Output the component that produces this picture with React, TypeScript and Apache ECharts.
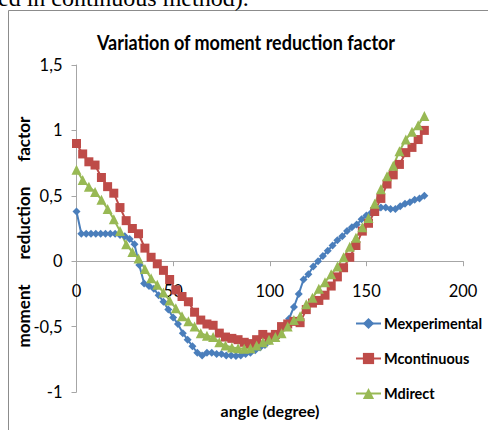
import React, { useEffect, useRef } from "react";
import * as echarts from "echarts";

const anglesExp = [0, 2.5, 5, 7.5, 10, 12.5, 15, 17.5, 20, 22.5, 25, 27.5, 30, 32.5, 35, 37.5, 40, 42.5, 45, 47.5, 50, 52.5, 55, 57.5, 60, 62.5, 65, 67.5, 70, 72.5, 75, 77.5, 80, 82.5, 85, 87.5, 90, 92.5, 95, 97.5, 100, 102.5, 105, 107.5, 110, 112.5, 115, 117.5, 120, 122.5, 125, 127.5, 130, 132.5, 135, 137.5, 140, 142.5, 145, 147.5, 150, 152.5, 155, 157.5, 160, 162.5, 165, 167.5, 170, 172.5, 175, 177.5, 180];
const mExperimental = [0.38, 0.21, 0.21, 0.21, 0.21, 0.21, 0.21, 0.21, 0.21, 0.2, 0.19, 0.17, 0.13, -0.03, -0.17, -0.19, -0.21, -0.26, -0.31, -0.37, -0.43, -0.48, -0.55, -0.6, -0.65, -0.7, -0.72, -0.7, -0.7, -0.71, -0.71, -0.72, -0.72, -0.725, -0.72, -0.71, -0.7, -0.68, -0.66, -0.64, -0.61, -0.57, -0.54, -0.49, -0.44, -0.35, -0.25, -0.14, -0.1, -0.04, 0.0, 0.04, 0.08, 0.12, 0.16, 0.19, 0.23, 0.26, 0.28, 0.32, 0.35, 0.37, 0.39, 0.41, 0.41, 0.4, 0.4, 0.42, 0.44, 0.45, 0.47, 0.48, 0.5];

const anglesCalc = [0, 3.2, 6.4, 9.6, 12.9, 16.1, 19.3, 22.5, 25.7, 28.9, 32.1, 35.4, 38.6, 41.8, 45, 48.2, 51.4, 54.6, 57.9, 61.1, 64.3, 67.5, 70.7, 73.9, 77.1, 80.4, 83.6, 86.8, 90, 93.2, 96.4, 99.6, 102.9, 106.1, 109.3, 112.5, 115.7, 118.9, 122.1, 125.4, 128.6, 131.8, 135, 138.2, 141.4, 144.6, 147.9, 151.1, 154.3, 157.5, 160.7, 163.9, 167.1, 170.4, 173.6, 176.8, 180];
const mContinuous = [0.9, 0.82, 0.76, 0.735, 0.64, 0.57, 0.52, 0.41, 0.31, 0.25, 0.21, 0.1, 0.03, -0.02, -0.07, -0.14, -0.22, -0.27, -0.31, -0.39, -0.45, -0.48, -0.49, -0.55, -0.58, -0.59, -0.6, -0.62, -0.63, -0.6, -0.56, -0.58, -0.56, -0.5, -0.48, -0.46, -0.47, -0.37, -0.32, -0.3, -0.26, -0.19, -0.12, -0.05, 0.03, 0.12, 0.23, 0.29, 0.38, 0.48, 0.59, 0.66, 0.74, 0.83, 0.87, 0.93, 1.0];
const mDirect = [0.7, 0.62, 0.57, 0.53, 0.47, 0.4, 0.32, 0.23, 0.13, 0.07, 0.02, -0.06, -0.13, -0.18, -0.24, -0.3, -0.36, -0.42, -0.46, -0.5, -0.55, -0.57, -0.58, -0.62, -0.645, -0.66, -0.665, -0.67, -0.665, -0.645, -0.62, -0.6, -0.58, -0.55, -0.5, -0.45, -0.42, -0.33, -0.28, -0.21, -0.16, -0.1, -0.04, 0.03, 0.11, 0.18, 0.26, 0.33, 0.44, 0.55, 0.65, 0.73, 0.84, 0.93, 0.99, 1.04, 1.11];

const seriesNames = ["Mexperimental", "Mcontinuous", "Mdirect"];
const xTicks = [0, 50, 100, 150, 200];
const yTicks = [-1, -0.5, 0, 0.5, 1, 1.5];

const FONT = "Lato, 'Liberation Sans', Arial, sans-serif";

export default function App() {
  const ref = useRef<HTMLDivElement>(null);
  useEffect(() => {
    document.body.style.margin = "0";
    const chart = echarts.init(ref.current!, undefined, { renderer: "svg" });
    const pair = (xs: number[], ys: number[]) => xs.map((x, i) => [x, ys[i]]);
    const gridTop = 65;
    const gridBottomPx = 392;
    const yMin = yTicks[0];
    const yMax = yTicks[yTicks.length - 1];
    const zeroPx = gridTop + ((gridBottomPx - gridTop) * yMax) / (yMax - yMin);
    chart.setOption({
      animation: false,
      backgroundColor: "#ffffff",
      grid: { left: 76.5, right: 25, top: gridTop, bottom: 430 - gridBottomPx, containLabel: false },
      legend: {
        orient: "vertical",
        left: 355,
        top: 316,
        padding: 0,
        itemWidth: 25,
        itemHeight: 14,
        itemGap: 20,
        data: seriesNames,
        textStyle: { fontFamily: FONT, fontSize: 14.5, lineHeight: 14, fontWeight: "bold", color: "#000", padding: [0, 0, 0, -2] },
      },
      xAxis: {
        type: "value",
        min: xTicks[0],
        max: xTicks[xTicks.length - 1],
        interval: 50,
        offset: -(gridBottomPx - zeroPx),
        axisLine: { onZero: false, lineStyle: { color: "#a6a6a6", width: 1 } },
        axisTick: { show: true, length: 5, lineStyle: { color: "#a6a6a6" } },
        axisLabel: { margin: 21, fontFamily: FONT, fontSize: 16.5, color: "#000" },
        splitLine: { show: false },
      },
      yAxis: {
        type: "value",
        min: yMin,
        max: yMax,
        interval: 0.5,
        axisLine: { show: true, lineStyle: { color: "#a6a6a6", width: 1 } },
        axisTick: { show: true, length: 5, lineStyle: { color: "#a6a6a6" } },
        axisLabel: {
          margin: 14,
          fontFamily: FONT,
          fontSize: 16.5,
          color: "#000",
          formatter: (v: number) => String(v).replace(".", ","),
        },
        splitLine: { show: false },
      },
      graphic: [
        {
          type: "rect",
          shape: { x: 8.5, y: 10.5, width: 500, height: 440 },
          style: { fill: "none", stroke: "#8c8c8c", lineWidth: 1 },
          silent: true,
        },
        {
          type: "text",
          x: -2,
          y: -1.6,
          style: {
            text: "ed in continuous method).",
            fontFamily: "'Liberation Serif', 'Times New Roman', serif",
            fontSize: 24,
            fill: "#000",
            verticalAlign: "middle",
            align: "left",
          },
          silent: true,
        },
        {
          type: "text",
          x: 246,
          y: 42,
          scaleX: 0.9,
          style: {
            text: "Variation of moment reduction factor",
            fontFamily: FONT,
            fontSize: 20,
            fontWeight: "bold",
            fill: "#000",
            align: "center",
            verticalAlign: "middle",
          },
          silent: true,
        },
        {
          type: "text",
          x: 270,
          y: 410,
          style: {
            text: "angle (degree)",
            fontFamily: FONT,
            fontSize: 16,
            fontWeight: "bold",
            fill: "#000",
            align: "center",
            verticalAlign: "middle",
          },
          silent: true,
        },
        {
          type: "text",
          x: 23,
          y: 232,
          rotation: Math.PI / 2,
          style: {
            text: "moment      reduction      factor",
            fontFamily: FONT,
            fontSize: 17,
            fontWeight: "bold",
            fill: "#000",
            align: "center",
            verticalAlign: "middle",
          },
          silent: true,
        },
      ],
      series: [
        {
          name: seriesNames[0],
          type: "line",
          data: pair(anglesExp, mExperimental),
          symbol: "diamond",
          symbolSize: 8,
          lineStyle: { color: "#4a7ebb", width: 2 },
          itemStyle: { color: "#4a7ebb" },
        },
        {
          name: seriesNames[1],
          type: "line",
          data: pair(anglesCalc, mContinuous),
          symbol: "rect",
          symbolSize: 9,
          lineStyle: { color: "#be4b48", width: 2 },
          itemStyle: { color: "#be4b48" },
        },
        {
          name: seriesNames[2],
          type: "line",
          data: pair(anglesCalc, mDirect),
          symbol: "triangle",
          symbolSize: 10,
          lineStyle: { color: "#98b954", width: 2 },
          itemStyle: { color: "#98b954" },
        },
      ],
    });
    return () => chart.dispose();
  }, []);
  return <div ref={ref} style={{ width: 488, height: 430 }} />;
}
